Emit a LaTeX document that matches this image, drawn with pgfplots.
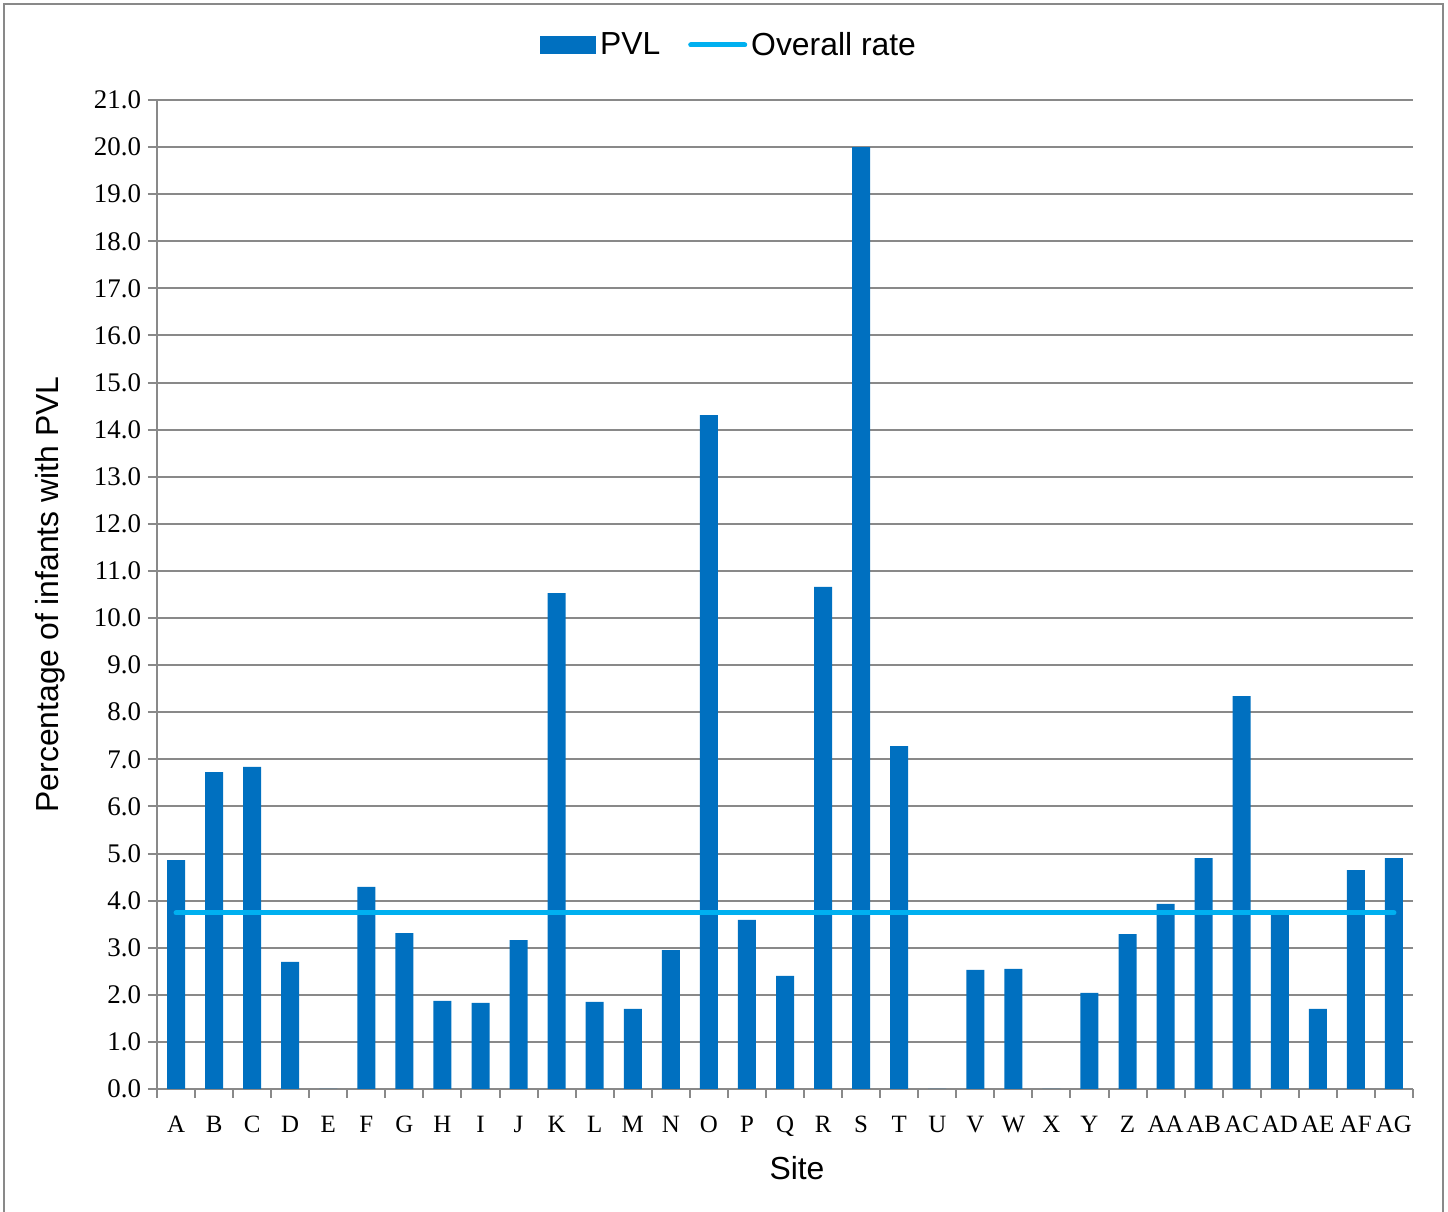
\documentclass[border=0pt]{standalone}
\usepackage{fontspec}
\setmainfont{Liberation Serif}
\newfontfamily\arialfont{Liberation Sans}
\usepackage{pgfplots}
\pgfplotsset{compat=1.18}
\definecolor{barblue}{HTML}{0070C0}
\definecolor{linecyan}{HTML}{00B0F0}
\definecolor{gridgray}{HTML}{898989}
\begin{document}
\begin{tikzpicture}
\useasboundingbox (0,0) rectangle (724bp,606bp);
\draw[gridgray, line width=1bp] (2bp,-3bp) -- (2bp,604bp) -- (721.5bp,604bp) -- (721.5bp,-3bp);
\begin{axis}[
  at={(78.5bp,61.5bp)}, anchor=south west,
  scale only axis, width=628bp, height=494.5bp,
  xmin=-0.5, xmax=32.5, ymin=0, ymax=21,
  xtick={-0.5,0.5,...,32.5},
  x tick label as interval,
  xticklabels={A,B,C,D,E,F,G,H,I,J,K,L,M,N,O,P,Q,R,S,T,U,V,W,X,Y,Z,AA,AB,AC,AD,AE,AF,AG},
  ytick distance=1,
  axis x line*=bottom, axis y line*=left,
  axis line style={gridgray, line width=1bp, -},
  tick align=outside, major tick length=4.5bp,
  major tick style={gridgray, line width=1bp},
  ymajorgrids, major grid style={gridgray, line width=1bp},
  /pgf/number format/assume math mode=true,
  y tick label style={/pgf/number format/.cd, fixed, fixed zerofill, precision=1, /tikz/.cd, font=\fontsize{13.5}{16}\selectfont},
  x tick label style={font=\fontsize{12.5}{15}\selectfont, yshift=-5.5bp},
  every axis y label/.style={at={([xshift=-53.5bp]axis description cs:0,0.5)}, rotate=90, anchor=center},
  every axis x label/.style={at={([xshift=6bp,yshift=-39.5bp]axis description cs:0.5,0)}, anchor=center},
  ylabel={\arialfont\fontsize{16}{19}\selectfont Percentage of infants with PVL},
  xlabel={\arialfont\fontsize{16}{19}\selectfont Site},
  legend style={at={(0.5,1)}, anchor=center, xshift=-27.5bp, yshift=27.5bp, draw=none, fill=none,
    font=\arialfont\fontsize{16}{19}\selectfont,
    /tikz/every even column/.append style={column sep=12bp}},
  legend columns=2,
  clip=false,
]
\addplot[ybar, bar width=9bp, bar shift=0pt, fill=barblue, draw=none,
  legend image code/.code={\fill[barblue] (0bp,-4.5bp) rectangle (28bp,4.5bp);}]
coordinates {
(0,4.86) (1,6.73) (2,6.84) (3,2.70) (4,0) (5,4.29) (6,3.31) (7,1.87) (8,1.83) (9,3.16)
(10,10.53) (11,1.85) (12,1.70) (13,2.95) (14,14.31) (15,3.59) (16,2.40) (17,10.66) (18,20.0) (19,7.28)
(20,0) (21,2.53) (22,2.55) (23,0) (24,2.04) (25,3.29) (26,3.93) (27,4.90) (28,8.34) (29,3.80)
(30,1.70) (31,4.65) (32,4.90)
};
\addlegendentry{PVL}
\addplot[linecyan, line width=2.5bp, line cap=round,
  legend image code/.code={\draw[linecyan, line width=2.5bp, line cap=round] (0bp,0bp) -- (27bp,0bp);}]
coordinates {(0,3.74) (32,3.74)};
\addlegendentry{Overall rate}
\end{axis}
\end{tikzpicture}
\end{document}
